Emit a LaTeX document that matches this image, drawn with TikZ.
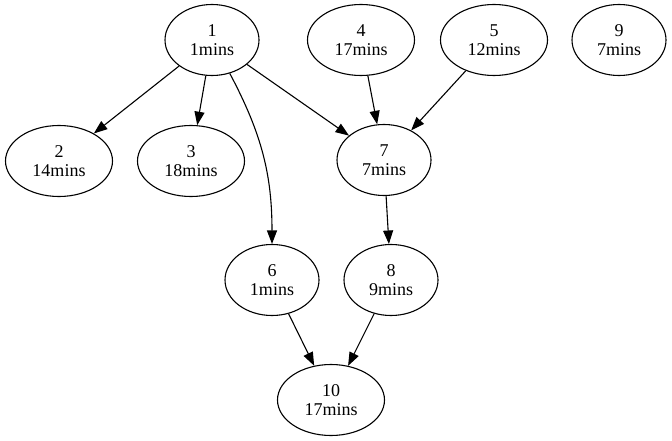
\documentclass[tikz,border=0pt]{standalone}
\usepackage{fontspec}
\setmainfont{Liberation Serif}
\usepackage{tikz}
\usetikzlibrary{shapes.geometric, arrows.meta, positioning}

\begin{document}
\begin{tikzpicture}[x=1pt, y=-1pt,
    task/.style={ellipse, draw, line width=1.1pt, align=center, inner sep=0pt,
      minimum width=94pt, minimum height=71pt, font=\fontsize{18}{19}\selectfont},
    wide/.style={minimum width=107pt},
    >={Triangle[length=13.5pt, width=10pt]}]
    \useasboundingbox (0,0) rectangle (672,441);

    % TOP ROW
    \node (N1) [task] at (212,40) {1\\1mins};
    \node (N4) [task, wide] at (361,40) {4\\17mins};
    \node (N5) [task, wide] at (494,40) {5\\12mins};
    \node (N9) [task] at (619,40) {9\\7mins};

    % SECOND ROW
    \node (N2) [task, wide] at (59,161) {2\\14mins};
    \node (N3) [task, wide] at (191,161) {3\\18mins};
    \node (N7) [task] at (384,160) {7\\7mins};

    % THIRD ROW
    \node (N6) [task] at (272,280) {6\\1mins};
    \node (N8) [task] at (391,280) {8\\9mins};

    % BOTTOM
    \node (N10) [task, wide] at (331,400) {10\\17mins};

    % DEPENDENCIES
    \draw[->, line width=1.1pt] (N1) -- (N2);
    \draw[->, line width=1.1pt] (N1) -- (N3);
    \draw[->, line width=1.1pt] (N1) -- (N7);
    \draw[->, line width=1.1pt] (N1) to[out=-62, in=90] (N6);
    \draw[->, line width=1.1pt] (N4) -- (N7);
    \draw[->, line width=1.1pt] (N5) -- (N7);
    \draw[->, line width=1.1pt] (N7) -- (N8);
    \draw[->, line width=1.1pt] (N6) -- (N10);
    \draw[->, line width=1.1pt] (N8) -- (N10);
\end{tikzpicture}
\end{document}
